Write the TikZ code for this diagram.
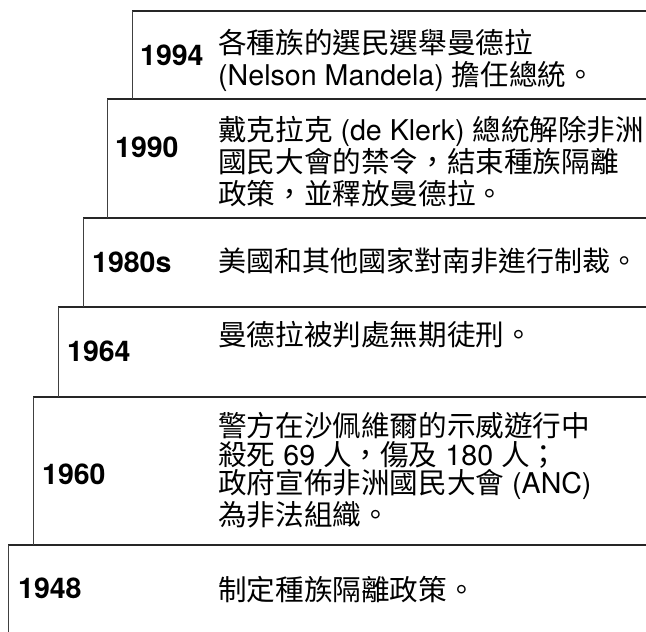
\documentclass[tikz,border=0pt]{standalone}
\usepackage{fontspec}
\setmainfont{TeX Gyre Heros}
\newfontfamily\cjk{Noto Sans CJK TC}
\newcommand{\zh}[1]{{\cjk #1}}
\usepackage{tikz}

\begin{document}
\begin{tikzpicture}[x=1pt,y=-1pt,
	yearnode/.style={inner sep=0pt, anchor=west, font=\bfseries\fontsize{28.5}{32}\selectfont},
	eventnode/.style={inner sep=0pt, anchor=west, align=left, font=\fontsize{28.6}{32}\selectfont},
	stepline/.style={draw=black!85, line width=1.6pt},
	sideline/.style={draw=black!75, line width=0.9pt},
	]
	\useasboundingbox (0,0) rectangle (646,632);
	%Nodes
	\node[yearnode](y1994) at (140,55){1994};
	\node[eventnode](e1994) at (218,60){\zh{各種族的選民選舉曼德拉}\\(Nelson Mandela) \zh{擔任總統。}};
	\node[yearnode](y1990) at (115,147){1990};
	\node[eventnode](e1990) at (218,162){\zh{戴克拉克} (de Klerk) \zh{總統解除非洲}\\\zh{國民大會的禁令，結束種族隔離}\\\zh{政策，並釋放曼德拉。}};
	\node[yearnode](y1980s) at (92,262){1980s};
	\node[eventnode, font=\fontsize{28}{32}\selectfont](e1980s) at (218,261){\zh{美國和其他國家對南非進行制裁。}};
	\node[yearnode](y1964) at (67,351){1964};
	\node[eventnode](e1964) at (218,335){\zh{曼德拉被判處無期徒刑。}};
	\node[yearnode](y1960) at (42,474){1960};
	\node[eventnode, font=\fontsize{28.6}{28.7}\selectfont](e1960) at (218,470){\zh{警方在沙佩維爾的示威遊行中}\\\zh{殺死} 69 \zh{人，傷及} 180 \zh{人；}\\\zh{政府宣佈非洲國民大會} (ANC)\\\zh{為非法組織。}};
	\node[yearnode](y1948) at (18,588){1948};
	\node[eventnode](e1948) at (218,590){\zh{制定種族隔離政策。}};

	%Lines
	\draw[stepline] (132,11) -- (646,11);
	\draw[stepline] (107,99) -- (646,99);
	\draw[stepline] (83,218) -- (646,218);
	\draw[stepline] (58,307) -- (646,307);
	\draw[stepline] (33,397) -- (646,397);
	\draw[stepline] (8,545) -- (646,545);
	\draw[sideline] (132,11) -- (132,99);
	\draw[sideline] (107,99) -- (107,218);
	\draw[sideline] (83,218) -- (83,307);
	\draw[sideline] (58,307) -- (58,397);
	\draw[sideline] (33,397) -- (33,545);
	\draw[sideline] (8,545) -- (8,632);
\end{tikzpicture}
\end{document}
